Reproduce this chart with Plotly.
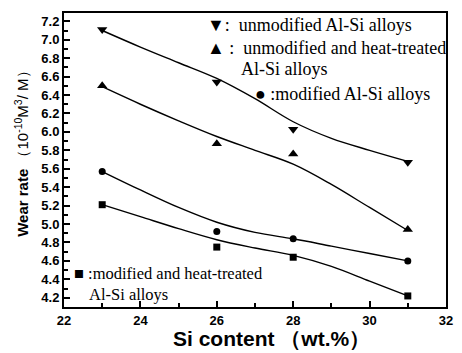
import plotly.graph_objects as go

# Measured data points
si = [23, 26, 28, 31]
unmod = [7.11, 6.54, 6.03, 5.67]
unmod_ht = [6.50, 5.87, 5.76, 4.94]
mod = [5.57, 4.92, 4.84, 4.60]
mod_ht = [5.21, 4.75, 4.64, 4.22]

# Fitted curves
fit_x = [23, 24, 25, 26, 27, 28, 29, 30, 31]
fit_unmod = [7.10, 6.92, 6.75, 6.58, 6.36, 6.11, 5.93, 5.80, 5.68]
fit_unmod_ht = [6.49, 6.30, 6.12, 5.95, 5.80, 5.65, 5.43, 5.18, 4.93]
fit_mod = [5.57, 5.37, 5.18, 5.02, 4.91, 4.84, 4.76, 4.68, 4.60]
fit_mod_ht = [5.21, 5.08, 4.95, 4.83, 4.74, 4.66, 4.54, 4.38, 4.22]

x_ticks = [22, 24, 26, 28, 30, 32]
y_ticks = [round(4.2 + 0.2 * i, 1) for i in range(16)]

fig = go.Figure()
for fy in [fit_unmod, fit_unmod_ht, fit_mod, fit_mod_ht]:
    fig.add_trace(go.Scatter(x=fit_x, y=fy, mode="lines", line=dict(color="black", width=1.4, shape="spline", smoothing=1.0),
                             hoverinfo="skip", showlegend=False))
for ys, sym, sz in [(unmod, "triangle-down", 9), (unmod_ht, "triangle-up", 9), (mod, "circle", 7), (mod_ht, "square", 7)]:
    fig.add_trace(go.Scatter(x=si, y=ys, mode="markers", marker=dict(symbol=sym, size=sz, color="black"), showlegend=False))

L, R, T, B = 64, 453, 13, 307
W, H = 462, 353

def px(x):
    return (x - L) / (R - L)

def py(y):
    return (B - y) / (B - T)

serif = "Liberation Serif"
ann = [
    ("▼:  unmodified Al-Si alloys", 208, 25, 18),
    ("▲ :  unmodified and heat-treated", 208, 48, 18),
    ("Al-Si alloys", 242, 69, 18),
    ("● :modified Al-Si alloys", 256, 94, 18),
    ("■ :modified and heat-treated", 72, 273, 16.5),
    ("Al-Si alloys", 87, 294, 16.5),
]
for t, x, y, s in ann:
    fig.add_annotation(text=t, x=px(x), y=py(y), xref="paper", yref="paper", xanchor="left", yanchor="middle",
                       showarrow=False, font=dict(family=serif, size=s, color="black"))

fig.add_annotation(text="<b>Wear rate</b> （10<sup>-10</sup>M<sup>3</sup>/ M）", textangle=-90,
                   x=px(20), y=py(150), xref="paper", yref="paper", xanchor="center", yanchor="middle",
                   showarrow=False, font=dict(family="Liberation Sans", size=15, color="black"))
fig.add_annotation(text="<b>Si content （wt.%）</b>", x=px(275), y=py(339), xref="paper", yref="paper",
                   xanchor="center", yanchor="middle", showarrow=False,
                   font=dict(family="Liberation Sans", size=21, color="black"))

axis_common = dict(showline=True, linecolor="black", linewidth=2, mirror=True, ticks="inside", tickcolor="black",
                   tickwidth=1.5, ticklen=6, showgrid=False, zeroline=False,
                   tickfont=dict(family="Liberation Sans", size=13, color="black", weight="bold"))
fig.update_xaxes(range=[22, 32], tickvals=x_ticks, ticktext=[f"<b>{v}</b>" for v in x_ticks],
                 minor=dict(ticks="inside", dtick=1, tick0=22, ticklen=4, tickcolor="black", tickwidth=1.5), **axis_common)
fig.update_yaxes(range=[4.1, 7.29], tickvals=y_ticks, ticktext=[f"<b>{v:.1f}</b>" for v in y_ticks],
                 minor=dict(ticks="inside", dtick=0.1, tick0=4.1, ticklen=4, tickcolor="black", tickwidth=1.5), **axis_common)

fig.update_layout(width=W, height=H, margin=dict(l=L, r=W - R, t=T, b=H - B), plot_bgcolor="white",
                  paper_bgcolor="white")
fig.write_html("out.html")
